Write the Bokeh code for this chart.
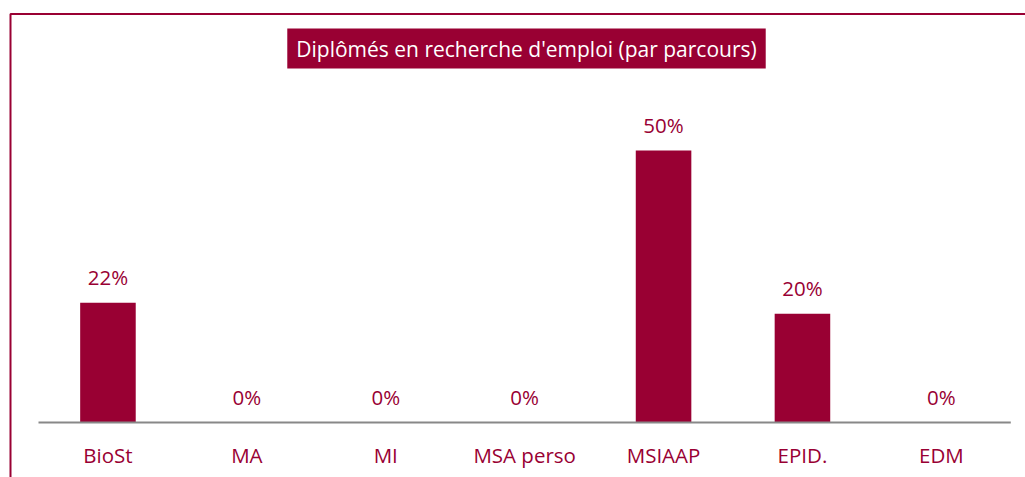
from bokeh.plotting import figure
from bokeh.models import Range1d, Label, BoxAnnotation, ColumnDataSource
from bokeh.core.properties import value
from bokeh.embed import file_html
from bokeh.resources import INLINE

categories = ["BioSt", "MA", "MI", "MSA perso", "MSIAAP", "EPID.", "EDM"]
percent = [22, 0, 0, 0, 50, 20, 0]
value_labels = ["22%", "0%", "0%", "0%", "50%", "20%", "0%"]
title_text = "Diplômés en recherche d'emploi (par parcours)"

RED = "#990033"
FONT = "Open Sans"

W, H = 1025, 477
px_per_cat = 138.9
px_per_pct = 5.44
left_px = 38
base_px = 422

x0 = -left_px / px_per_cat
x1 = (W - left_px) / px_per_cat
ytop = base_px / px_per_pct
ybot = -(H - base_px) / px_per_pct

p = figure(width=W, height=H, output_backend="svg", toolbar_location=None,
           x_range=Range1d(x0, x1), y_range=Range1d(ybot, ytop),
           min_border=0, outline_line_color=None)
p.xaxis.visible = False
p.yaxis.visible = False
p.xgrid.visible = False
p.ygrid.visible = False

xs = [i + 0.5 for i in range(len(categories))]
src = ColumnDataSource(dict(x=xs, top=percent, lab=value_labels, cat=categories))

p.vbar(x="x", top="top", bottom=0, width=0.4, source=src,
       fill_color=RED, line_color=None)

# baseline
p.line(x=[0, len(categories)], y=[0, 0], line_color="#888888", line_width=2)

# value labels
p.text(x="x", y="top", text="lab", source=src, text_align="center",
       text_baseline="bottom", y_offset=-12, text_color=RED,
       text_font=value(FONT), text_font_size="20.5px")

# category labels
p.text(x="x", y=0, text="cat", source=src, text_align="center",
       text_baseline="middle", y_offset=32, text_color=RED,
       text_font=value(FONT), text_font_size="20.5px")

# frame border (left and top only visible)
p.add_layout(BoxAnnotation(left=x0 + 10 / px_per_cat, right=x1 + 1,
                           top=ytop - 13.5 / px_per_pct, bottom=ybot - 5,
                           fill_alpha=0, line_color=RED, line_width=2,
                           line_alpha=1))

# title box
p.add_layout(Label(x=x0 + 526 / px_per_cat, y=ytop - 48 / px_per_pct, text=title_text,
                   text_align="center", text_baseline="middle",
                   text_color="white", text_font=FONT, text_font_size="21px",
                   background_fill_color=RED,
                   padding=dict(top=6, bottom=6, left=9, right=9)))

open("out.html", "w").write(file_html(p, INLINE))
